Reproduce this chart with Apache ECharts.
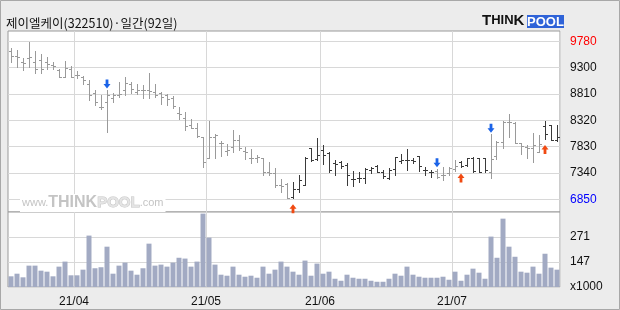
<!DOCTYPE html>
<html><head><meta charset="utf-8">
<script src="https://cdn.jsdelivr.net/npm/echarts@6/dist/echarts.min.js"></script>
<style>html,body{margin:0;padding:0;background:#ececec}#c{width:620px;height:310px}</style>
</head><body><div id="c"></div>
<script>
const categories = [
'2021-03-17','2021-03-18','2021-03-19','2021-03-22','2021-03-23','2021-03-24','2021-03-25','2021-03-26','2021-03-29','2021-03-30','2021-03-31',
'2021-04-01','2021-04-02','2021-04-05','2021-04-06','2021-04-07','2021-04-08','2021-04-09','2021-04-12','2021-04-13','2021-04-14','2021-04-15','2021-04-16','2021-04-19','2021-04-20','2021-04-21','2021-04-22','2021-04-23','2021-04-26','2021-04-27','2021-04-28','2021-04-29','2021-04-30',
'2021-05-03','2021-05-04','2021-05-06','2021-05-07','2021-05-10','2021-05-11','2021-05-12','2021-05-13','2021-05-14','2021-05-17','2021-05-18','2021-05-20','2021-05-21','2021-05-24','2021-05-25','2021-05-26','2021-05-27','2021-05-28','2021-05-31',
'2021-06-01','2021-06-02','2021-06-03','2021-06-04','2021-06-07','2021-06-08','2021-06-09','2021-06-10','2021-06-11','2021-06-14','2021-06-15','2021-06-16','2021-06-17','2021-06-18','2021-06-21','2021-06-22','2021-06-23','2021-06-24','2021-06-25','2021-06-28','2021-06-29','2021-06-30',
'2021-07-01','2021-07-02','2021-07-05','2021-07-06','2021-07-07','2021-07-08','2021-07-09','2021-07-12','2021-07-13','2021-07-14','2021-07-15','2021-07-16','2021-07-19','2021-07-20','2021-07-21','2021-07-22','2021-07-23','2021-07-26'
];
const openP = [9610,9520,9400,9470,9400,9440,9400,9350,9250,9130,9280,9160,9130,9000,8820,8570,8660,8730,8790,8880,9000,8850,8880,
8880,8850,8820,8780,8730,8450,8370,8230,8170,8000,7610,8010,7890,7750,7830,7950,7750,7620,7620,7610,7360,7330,7110,
7130,6900,7050,7110,7800,7600,7770,7720,7520,7550,7490,7230,7240,7240,7390,7470,7360,7240,7420,7560,7590,7580,7650,7390,
7360,7370,7300,7330,7420,7550,7490,7620,7620,7610,7360,7660,7920,8280,8260,7890,7830,7800,7730,8220,8230,7950];
const highP = [9660,9630,9470,9770,9610,9550,9500,9400,9280,9420,9320,9240,9150,9070,8890,8790,8880,8820,9040,9120,9040,9000,8970,
9200,9000,8850,8800,8770,8570,8470,8340,8260,8010,8310,8060,7930,7870,8140,8040,7830,7780,7670,7620,7550,7440,7230,
7150,7180,7300,7640,7800,7990,7860,7730,7580,7560,7520,7370,7360,7440,7450,7490,7390,7440,7640,7700,7780,7610,7650,7450,
7390,7420,7450,7450,7590,7560,7620,7630,7620,7620,8060,7930,8300,8430,8280,7890,7860,8090,8040,8310,8240,8230];
const lowP = [9410,9310,9260,9310,9190,9200,9280,9270,9120,9130,9130,9100,9000,8700,8600,8530,8110,8660,8760,8790,8820,8810,8730,
8730,8760,8630,8600,8540,8350,8140,8170,8010,7450,7610,7610,7660,7680,7730,7760,7600,7530,7540,7300,7300,7080,6980,
6870,6880,6980,7110,7560,7580,7500,7360,7310,7440,7110,7100,7180,7160,7330,7360,7240,7230,7310,7520,7390,7520,7370,7310,
7270,7250,7200,7300,7370,7450,7470,7350,7350,7360,7250,7600,7800,8010,7890,7700,7620,7540,7730,7980,7950,7930];
const closeP = [9520,9490,9390,9490,9280,9280,9370,9320,9130,9300,9130,9160,9070,8790,8660,8560,8790,8790,8810,9020,8910,8880,8880,
8870,8790,8760,8710,8580,8440,8220,8170,8030,7550,8000,8040,7890,7770,7950,7800,7730,7610,7640,7350,7330,7110,7100,
6880,7050,7210,7610,7580,7670,7670,7390,7500,7470,7300,7230,7240,7410,7440,7360,7290,7390,7640,7590,7580,7560,7460,7390,
7350,7270,7310,7440,7470,7470,7610,7370,7360,7390,7600,7920,8290,8280,7890,7850,7800,7860,7870,8060,7950,8010];
const volume = [76,89,71,129,129,104,99,76,124,149,81,81,109,278,116,121,223,89,129,144,104,84,116,238,129,134,124,144,168,164,
124,149,387,268,134,84,79,124,84,74,79,69,124,89,109,149,124,99,84,154,79,139,89,99,64,54,84,69,64,64,
54,49,49,64,89,79,124,84,74,69,69,69,74,59,99,54,84,114,94,64,273,168,362,223,173,99,94,124,89,188,119,109];
const sellSignals = [16, 71, 80];
const buySignals = [47, 75, 89];
const priceTicks = [6850, 7340, 7830, 8320, 8810, 9300, 9780];
const volumeTicks = [23, 147, 271];
const volumeUnitLabel = 'x1000';
const titleText = '제이엘케이(322510)·일간(92일)';

const monthStarts = [];
categories.forEach((d, i) => { if (i > 0 && d.slice(5,7) !== categories[i-1].slice(5,7)) monthStarts.push(i); });

let state = 'gray';
const barColors = categories.map((_, i) => {
  if (sellSignals.includes(i)) state = 'gray';
  if (buySignals.includes(i)) state = 'dark';
  return state === 'gray' ? '#9a9a9a' : '#3a3a3a';
});

const ohlcData = categories.map((c, i) => [i, openP[i], closeP[i], lowP[i], highP[i]]);

function renderItem(params, api) {
  const i = api.value(0);
  const pO = api.coord([i, api.value(1)]);
  const pC = api.coord([i, api.value(2)]);
  const pL = api.coord([i, api.value(3)]);
  const pH = api.coord([i, api.value(4)]);
  const X = Math.floor(pH[0]);
  const xc = X + 0.5;
  const yo = Math.round(pO[1]) + 0.5, yc = Math.round(pC[1]) + 0.5;
  const st = { stroke: barColors[params.dataIndex], lineWidth: 1 };
  return { type: 'group', children: [
    { type: 'line', shape: { x1: xc, y1: Math.round(pH[1]), x2: xc, y2: Math.round(pL[1]) + 1 }, style: st },
    { type: 'line', shape: { x1: X - 2, y1: yo, x2: X, y2: yo }, style: st },
    { type: 'line', shape: { x1: X + 1, y1: yc, x2: X + 3, y2: yc }, style: st }
  ]};
}

const FONT = 'Liberation Sans';
const gridLine = { show: true, lineStyle: { color: '#d8d8d8', width: 1 } };
const vSplit = { show: true, interval: (idx) => monthStarts.includes(idx), lineStyle: { color: '#d8d8d8', width: 1 } };

const chart = echarts.init(document.getElementById('c'), null, { renderer: 'canvas' });
chart.setOption({
  backgroundColor: '#ececec',
  animation: false,
  grid: [
    { left: 8, right: 60, top: 31, height: 181, show: true, backgroundColor: '#fff', borderColor: '#9a9a9a', borderWidth: 1 },
    { left: 8, right: 60, top: 212, height: 75, show: true, backgroundColor: '#fff', borderColor: '#9a9a9a', borderWidth: 1 }
  ],
  xAxis: [
    { type: 'category', gridIndex: 0, data: categories, boundaryGap: true,
      axisLine: { show: false }, axisTick: { show: false }, axisLabel: { show: false }, splitLine: vSplit },
    { type: 'category', gridIndex: 1, data: categories, boundaryGap: true,
      axisLine: { show: false }, axisTick: { show: false }, splitLine: vSplit,
      axisLabel: { show: true, interval: (idx) => monthStarts.includes(idx),
        formatter: (v) => v.slice(2,4) + '/' + v.slice(5,7),
        color: '#111', fontSize: 12, fontFamily: FONT, margin: 9, padding: [0, 6, 0, 0] } }
  ],
  yAxis: [
    { type: 'value', gridIndex: 0, position: 'right', min: 6614, max: 9979, scale: true,
      axisLine: { show: false }, axisTick: { show: false, customValues: priceTicks },
      axisLabel: { customValues: priceTicks, margin: 10, fontSize: 12, fontFamily: FONT,
        formatter: (v) => String(v),
        color: (v) => Number(v) === 9780 ? '#ff0000' : (Number(v) === 6850 ? '#0000ff' : '#111') },
      splitLine: gridLine },
    { type: 'value', gridIndex: 1, position: 'right', min: 23, max: 395,
      axisLine: { show: false }, axisTick: { show: false, customValues: volumeTicks },
      axisLabel: { customValues: volumeTicks, margin: 10, fontSize: 12, fontFamily: FONT, color: '#111',
        formatter: (v) => Number(v) === volumeTicks[0] ? volumeUnitLabel : String(v) },
      splitLine: gridLine }
  ],
  series: [
    { type: 'custom', xAxisIndex: 0, yAxisIndex: 0, data: ohlcData, renderItem: renderItem,
      encode: { x: 0, y: [1, 2, 3, 4] }, z: 3 },
    { type: 'scatter', xAxisIndex: 0, yAxisIndex: 0, z: 4,
      data: sellSignals.map(i => [i, highP[i]]),
      symbol: 'path://M3,0 H7 V6 H10 L5,12 L0,6 H3 Z', symbolSize: [7, 9], symbolKeepAspect: false,
      symbolOffset: [0, -6], itemStyle: { color: '#1b63e8', opacity: 1 } },
    { type: 'scatter', xAxisIndex: 0, yAxisIndex: 0, z: 4,
      data: buySignals.map(i => [i, lowP[i]]),
      symbol: 'path://M5,0 L10,6 H7 V12 H3 V6 H0 Z', symbolSize: [7, 9], symbolKeepAspect: false,
      symbolOffset: [0, 11], itemStyle: { color: '#f04a12', opacity: 1 } },
    { type: 'bar', xAxisIndex: 1, yAxisIndex: 1, data: volume, barWidth: 5,
      itemStyle: { color: '#a2aac3' }, z: 3 }
  ],
  graphic: [
    { type: 'rect', z: 20, silent: true, shape: { x: 0.5, y: 0.5, width: 619, height: 309 },
      style: { fill: 'none', stroke: '#a8a8a8', lineWidth: 1 } },
    { type: 'text', z: 20, style: { x: 6, y: 23, text: titleText, verticalAlign: 'middle',
      font: '12.5px "Noto Sans CJK KR"', fill: '#111' } },
    { type: 'text', z: 20, style: { x: 482, y: 28, verticalAlign: 'bottom',
      text: '{t|T}{s|HIN}{t|K}',
      rich: { t: { fontSize: 15, fontWeight: 'bold', fontFamily: FONT, fill: '#111' },
              s: { fontSize: 13, fontWeight: 'bold', fontFamily: FONT, fill: '#111' } } } },
    { type: 'rect', z: 20, shape: { x: 527, y: 15, width: 37, height: 13 }, style: { fill: '#2f63d8' } },
    { type: 'text', z: 21, style: { x: 545.5, y: 22, text: 'POOL', align: 'center', verticalAlign: 'middle',
      font: 'bold 13px "Liberation Sans"', fill: '#fff' } },
    { type: 'text', z: 1, style: { x: 20, y: 203, verticalAlign: 'middle',
      text: '{a|www.}{b|THINK}{c|POOL}{a|.com}', backgroundColor: '#fff', padding: [1, 2],
      rich: { a: { fontSize: 11, fontFamily: FONT, fill: '#c4c4c4' },
              b: { fontSize: 16, fontWeight: 'bold', fontFamily: FONT, fill: '#c4c4c4' },
              c: { fontSize: 15, fontWeight: 'bold', fontFamily: FONT, fill: '#e4e4e4', stroke: '#c4c4c4', lineWidth: 1 } } } }
  ]
});
</script></body></html>
